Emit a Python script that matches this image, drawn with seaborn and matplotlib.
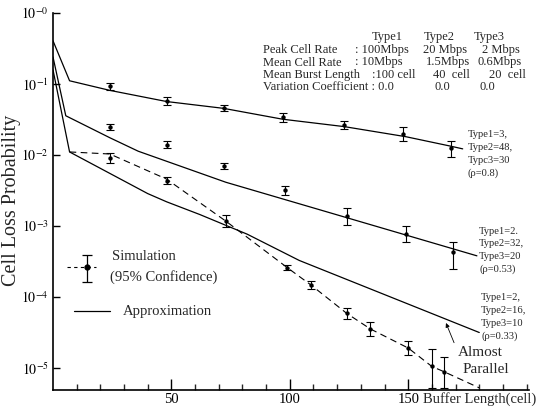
import numpy as np
import pandas as pd
import matplotlib
matplotlib.use("Agg")
import matplotlib.pyplot as plt
from matplotlib.ticker import FixedLocator, NullLocator
import seaborn as sns

# ---------------- data ----------------
# Approximation curves (solid)
approx_08_x = [0, 7, 24, 48, 72, 97, 123, 149, 168, 173]
approx_08_y = [0.406, 0.111, 0.0813, 0.0566, 0.0454, 0.0319, 0.0251, 0.0181, 0.0133, 0.0122]
approx_053_x = [0, 5.4, 24, 36, 73, 179]
approx_053_y = [0.240, 0.0357, 0.0175, 0.0113, 0.00413, 0.00038]
approx_033_x = [0, 7, 40, 48, 62, 82, 104, 180]
approx_033_y = [0.158, 0.01104, 0.00286, 0.00219, 0.00145, 0.000767, 0.000327, 3.16e-5]

# Simulation points with 95% confidence bounds
sim_08_x = [24, 48, 72, 97, 123, 148, 168]
sim_08_y = [0.0927, 0.0577, 0.0465, 0.0338, 0.0265, 0.0200, 0.0126]
sim_08_lo = [0.0832, 0.0514, 0.0421, 0.0290, 0.0231, 0.0158, 0.00944]
sim_08_hi = [0.1033, 0.0647, 0.0513, 0.0394, 0.0305, 0.0251, 0.01567]

sim_053_x = [24, 48, 72, 98, 124, 149, 169]
sim_053_y = [0.0249, 0.01403, 0.00700, 0.00318, 0.00137, 0.000767, 0.000436]
sim_053_lo = [0.0223, 0.01245, 0.00631, 0.00274, 0.00103, 0.000596, 0.000245]
sim_053_hi = [0.0277, 0.0158, 0.00776, 0.00370, 0.00182, 0.000989, 0.000600]

sim_033_x = [24, 48, 73, 99, 109, 124, 134, 150, 160, 165]
sim_033_y = [0.00910, 0.00437, 0.00117, 0.000258, 0.000147, 5.89e-5, 3.55e-5, 1.91e-5, 1.05e-5, 8.9e-6]
sim_033_lo = [0.00783, 0.00389, 0.000973, 0.000238, 0.000129, 4.90e-5, 2.82e-5, 1.53e-5, 5.25e-6, 5.25e-6]
sim_033_hi = [0.01057, 0.00490, 0.001406, 0.000280, 0.000167, 7.08e-5, 4.47e-5, 2.37e-5, 1.86e-5, 1.45e-5]

# dashed simulation curve for rho=0.33
sim_033_line_x = [7, 24, 48, 73, 99, 109, 124, 134, 150, 160, 165, 180]
sim_033_line_y = [0.01104, 0.01033, 0.00457, 0.00117, 0.000258, 0.000147, 5.89e-5, 3.55e-5,
                  1.91e-5, 1.05e-5, 8.9e-6, 5.25e-6]

y_ticks = [1, 1e-1, 1e-2, 1e-3, 1e-4, 1e-5]
y_tick_labels = [r"$10^{-0}$", r"$10^{-1}$", r"$10^{-2}$", r"$10^{-3}$", r"$10^{-4}$", r"$10^{-5}$"]
x_major = [50, 100, 150]
x_major_labels = ["50", "100", "150"]
x_minor = [10, 20, 30, 40, 60, 70, 80, 90, 110, 120, 130, 140, 160, 170, 180, 190, 200]

table_header = ["Type1", "Type2", "Type3"]
table_rows = ["Peak Cell Rate", "Mean Cell Rate", "Mean Burst Length", "Variation Coefficient : 0.0"]
table_type1 = [": 100Mbps", ": 10Mbps", ":100 cell", ""]
table_type2 = ["20 Mbps", "1.5Mbps", "40  cell", "0.0"]
table_type3 = ["2 Mbps", "0.6Mbps", "20  cell", "0.0"]

group_08 = ["Type1=3,", "Type2=48,", "Typc3=30", "(\u03c1=0.8)"]
group_053 = ["Type1=2.", "Type2=32,", "Type3=20", "(\u03c1=0.53)"]
group_033 = ["Type1=2,", "Type2=16,", "Type3=10", "(\u03c1=0.33)"]

# ---------------- style ----------------
sns.set_theme(style="white")
plt.rcParams["font.family"] = ["Liberation Serif", "DejaVu Serif"]
plt.rcParams["mathtext.fontset"] = "stix"

W, H = 554, 407
fig = plt.figure(figsize=(W / 100, H / 100), dpi=100)
fig.patch.set_facecolor("white")
L, R, T, B = 53, 529, 13, 390
ax = fig.add_axes([L / W, 1 - B / H, (R - L) / W, (B - T) / H])
ax.set_facecolor("white")
ax.set_yscale("log")


def px(x, y):
    return x / W, 1 - y / H


# approximation curves
approx_df = pd.concat([
    pd.DataFrame({"x": approx_08_x, "p": approx_08_y, "rho": "0.8"}),
    pd.DataFrame({"x": approx_053_x, "p": approx_053_y, "rho": "0.53"}),
    pd.DataFrame({"x": approx_033_x, "p": approx_033_y, "rho": "0.33"}),
], ignore_index=True)
sns.lineplot(data=approx_df, x="x", y="p", units="rho", estimator=None, sort=False,
             color="black", lw=0.9, ax=ax, legend=False)

# dashed simulation curve
sns.lineplot(x=sim_033_line_x, y=sim_033_line_y, sort=False, estimator=None,
             color="black", lw=0.8, linestyle=(0, (6, 4)), ax=ax, legend=False)

# simulation points + error bars
for xs, ys, lo, hi in [(sim_08_x, sim_08_y, sim_08_lo, sim_08_hi),
                       (sim_053_x, sim_053_y, sim_053_lo, sim_053_hi),
                       (sim_033_x, sim_033_y, sim_033_lo, sim_033_hi)]:
    ys_a = np.array(ys)
    ax.errorbar(xs, ys, yerr=[ys_a - np.array(lo), np.array(hi) - ys_a], fmt="none",
                ecolor="black", elinewidth=0.8, capsize=2.6, capthick=0.8, zorder=3)
    sns.scatterplot(x=xs, y=ys, color="black", s=10, linewidth=0, ax=ax, zorder=4, legend=False)

# axes
ax.set_xlim(0, 201)
ax.set_ylim(10 ** -5.31, 1)
ax.yaxis.set_major_locator(FixedLocator(y_ticks))
ax.set_yticklabels(y_tick_labels)
ax.yaxis.set_minor_locator(NullLocator())
ax.xaxis.set_major_locator(FixedLocator(x_major))
ax.set_xticklabels(x_major_labels)
ax.xaxis.set_minor_locator(FixedLocator(x_minor))
ax.tick_params(axis="y", which="major", direction="in", length=5.3, width=1.0,
               labelsize=10, pad=3, colors="black", left=True)
ax.tick_params(axis="x", which="major", direction="in", length=8, width=1.0,
               labelsize=10.5, pad=2, colors="black", bottom=True)
ax.tick_params(axis="x", which="minor", direction="in", length=4.3, width=1.0, bottom=True)
ax.set_xlabel("")
ax.set_ylabel("")
sns.despine(ax=ax)
for s in ["left", "bottom"]:
    ax.spines[s].set_color("black")
    ax.spines[s].set_linewidth(1.2)

# axis titles
fig.text(*px(423, 399), "Buffer Length(cell)", fontsize=10.5, ha="left", va="center")
fig.text(*px(12, 200), "Cell Loss Probability", fontsize=14.5, rotation=90, ha="center", va="center")

# parameter table
hdr_x = [372, 424, 474]
for hx, h in zip(hdr_x, table_header):
    fig.text(*px(hx, 37), h, fontsize=9, ha="left", va="center")
row_y = [50, 62.5, 75, 87.5]
c1_x = [355, 355, 372, 0]
c2_x = [423, 426, 433, 435]
c3_x = [482, 478, 489, 480]
for i, ry in enumerate(row_y):
    fig.text(*px(263, ry), table_rows[i], fontsize=9, ha="left", va="center")
    if table_type1[i]:
        fig.text(*px(c1_x[i], ry), table_type1[i], fontsize=9, ha="left", va="center")
    fig.text(*px(c2_x[i], ry), table_type2[i], fontsize=9, ha="left", va="center")
    fig.text(*px(c3_x[i], ry), table_type3[i], fontsize=9, ha="left", va="center")

# right-side group labels
for lines, gx, gy in [(group_08, 468, 134.5), (group_053, 479, 231), (group_033, 481, 297.5)]:
    for k, t in enumerate(lines):
        fig.text(*px(gx, gy + 12.8 * k), t, fontsize=7.6, ha="left", va="center")

# Almost Parallel annotation
ax.annotate("", xy=(165.5, 10 ** -4.33), xytext=(169.8, 10 ** -4.68),
            arrowprops=dict(arrowstyle="-|>", lw=0.6, color="black", mutation_scale=6))
ax.text(171, 10 ** -4.78, "Almost", fontsize=11, ha="left", va="center")
ax.text(173, 10 ** -5.02, "Parallel", fontsize=11, ha="left", va="center")

# legend (drawn by hand)
ax.errorbar([0.0708], [0.325], yerr=[[0.0385], [0.0331]], fmt="o", ms=3.5, color="black",
            elinewidth=0.9, capsize=3.5, capthick=0.9, transform=ax.transAxes)
ax.plot([0.030, 0.090], [0.325, 0.325], color="black", lw=0.8, ls=(0, (3, 3)),
        transform=ax.transAxes)
ax.plot([0.044, 0.120], [0.2095, 0.2095], color="black", lw=0.9, transform=ax.transAxes)
fig.text(*px(112, 256), "Simulation", fontsize=10.5, ha="left", va="center")
fig.text(*px(110, 277), "(95% Confidence)", fontsize=10.5, ha="left", va="center")
fig.text(*px(123, 311), "Approximation", fontsize=10.5, ha="left", va="center")

fig.savefig("out.png", dpi=100, facecolor="white")
